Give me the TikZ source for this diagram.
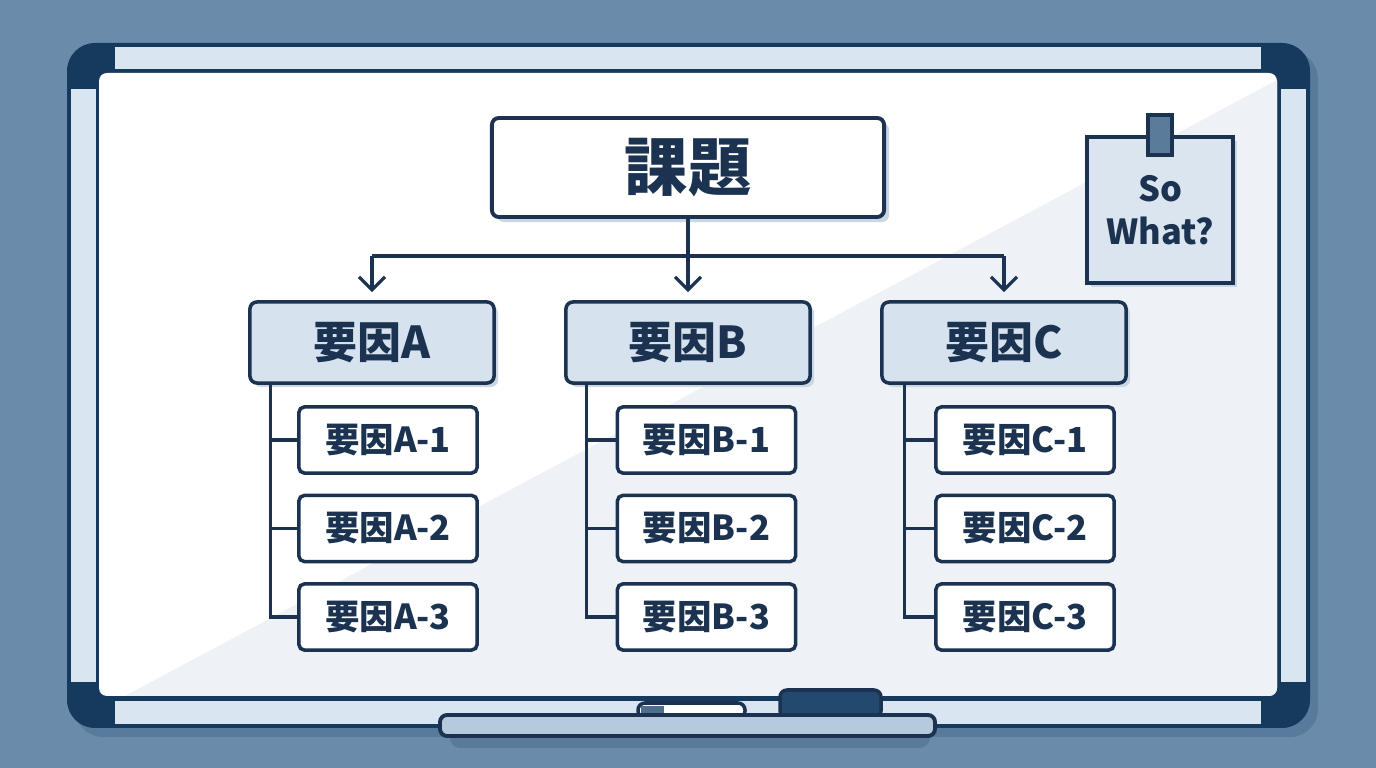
\documentclass[tikz,border=0pt]{standalone}
\usepackage{fontspec}
\newfontfamily\cjk{Noto Sans CJK JP}
\usepackage{tikz}
\usetikzlibrary{positioning,arrows.meta,shadows}

\definecolor{wallbg}{HTML}{6B8BAA}
\definecolor{navy}{HTML}{163A5E}
\definecolor{ink}{HTML}{1B3350}
\definecolor{rim}{HTML}{D9E5F0}
\definecolor{rimshadow}{HTML}{587A9B}
\definecolor{boardgrey}{HTML}{EEF2F7}
\definecolor{boxblue}{HTML}{D6E2EE}
\definecolor{shade}{HTML}{C9D7E5}
\definecolor{trayblue}{HTML}{B6CADE}
\definecolor{eraser}{HTML}{24496E}
\definecolor{capblue}{HTML}{4F6F8F}
\definecolor{clipblue}{HTML}{5B7B9B}
\definecolor{noteblue}{HTML}{DAE5EF}

\tikzset{
  issuebox/.style={draw=ink, line width=1.1pt, fill=white, rounded corners=2pt,
    minimum width=3.92cm, minimum height=0.99cm, text=ink,
    font=\cjk\bfseries\fontsize{18}{20}\selectfont,
    drop shadow={shadow xshift=0.05cm, shadow yshift=-0.05cm, fill=shade, opacity=1}},
  factorbox/.style={draw=ink, line width=1pt, fill=boxblue, rounded corners=2pt,
    minimum width=2.44cm, minimum height=0.81cm, text=ink,
    font=\cjk\bfseries\fontsize{12.5}{14}\selectfont,
    drop shadow={shadow xshift=0.04cm, shadow yshift=-0.04cm, fill=shade, opacity=1}},
  subbox/.style={draw=ink, line width=1pt, fill=white, rounded corners=1.5pt,
    minimum width=1.78cm, minimum height=0.66cm, inner sep=1pt, text=ink,
    font=\cjk\bfseries\fontsize{9.8}{12}\selectfont},
  memobox/.style={draw=ink, line width=1pt, fill=noteblue, minimum size=1.46cm,
    align=center, text=ink, font=\cjk\bfseries\fontsize{9.8}{12.2}\selectfont,
    drop shadow={shadow xshift=0.04cm, shadow yshift=-0.04cm, fill=shade, opacity=1}},
  link/.style={draw=ink, line width=0.9pt},
  arr/.style={-{Straight Barb[length=1.3mm,width=2.6mm]}}
}

\begin{document}
\begin{tikzpicture}[x=0.01cm, y=-0.01cm]
  % Wall
  \fill[wallbg] (0,0) rectangle (1376,768);
  \useasboundingbox (0,0) rectangle (1376,768);

  % Frame
  \fill[rimshadow, rounded corners=0.28cm] (75,51) rectangle (1318,737);
  \fill[navy, rounded corners=0.28cm] (67,43) rectangle (1310,728);
  \fill[rim] (115,47) rectangle (1261,69);
  \fill[rim] (115,701) rectangle (1261,724);
  \fill[rim] (71,89) rectangle (96,682);
  \fill[rim] (1281,89) rectangle (1306,682);

  % Board surface
  \fill[white, rounded corners=0.08cm] (99,73) rectangle (1277,696);
  \begin{scope}
    \clip[rounded corners=0.08cm] (99,73) rectangle (1277,696);
    \fill[boardgrey] (125,696) -- (1277,80) -- (1277,696) -- cycle;
  \end{scope}

  % Tray, marker and eraser
  \fill[rimshadow, rounded corners=3pt] (450,728) rectangle (930,748);
  \draw[ink, line width=1pt, fill=white, rounded corners=2pt] (638,703) rectangle (745,718);
  \fill[capblue] (641,706) rectangle (664,716);
  \draw[ink, line width=1pt, fill=eraser, rounded corners=2pt] (780,690) rectangle (881,718);
  \draw[ink, line width=1.1pt, fill=trayblue, rounded corners=2pt] (440,715) rectangle (935,736);

  % Sticky note
  \node[memobox] (memo) at (1160,210) {So\\What?};
  \draw[ink, line width=1pt, fill=clipblue]
    ([xshift=-0.12cm, yshift=0.2cm]memo.north) rectangle ([xshift=0.12cm, yshift=-0.2cm]memo.north);

  % Issue
  \node[issuebox] (issue) at (688,167.5) {課題};

  % Factors
  \node[factorbox] (fA) at (372,342.5) {要因A};
  \node[factorbox] (fB) at (688,342.5) {要因B};
  \node[factorbox] (fC) at (1004,342.5) {要因C};

  % Sub factors
  \node[subbox] (a1) at (388,440) {要因A-1};
  \node[subbox] (a2) at (388,528.5) {要因A-2};
  \node[subbox] (a3) at (388,617) {要因A-3};
  \node[subbox] (b1) at (706.5,440) {要因B-1};
  \node[subbox] (b2) at (706.5,528.5) {要因B-2};
  \node[subbox] (b3) at (706.5,617) {要因B-3};
  \node[subbox] (c1) at (1025,440) {要因C-1};
  \node[subbox] (c2) at (1025,528.5) {要因C-2};
  \node[subbox] (c3) at (1025,617) {要因C-3};

  % Issue -> factors
  \coordinate (split) at (688,256);
  \draw[link] (issue.south) -- (split);
  \draw[link] (fA.north |- split) -- (fC.north |- split);
  \draw[link, arr] (fA.north |- split) -- ([yshift=0.08cm]fA.north);
  \draw[link, arr] (split) -- ([yshift=0.08cm]fB.north);
  \draw[link, arr] (fC.north |- split) -- ([yshift=0.08cm]fC.north);

  % Factor -> sub factors
  \coordinate (busA) at ([xshift=0.22cm]fA.south west);
  \coordinate (busB) at ([xshift=0.22cm]fB.south west);
  \coordinate (busC) at ([xshift=0.24cm]fC.south west);
  \draw[link] (busA) |- (a3.west);
  \draw[link] (busA |- a1.west) -- (a1.west);
  \draw[link] (busA |- a2.west) -- (a2.west);
  \draw[link] (busB) |- (b3.west);
  \draw[link] (busB |- b1.west) -- (b1.west);
  \draw[link] (busB |- b2.west) -- (b2.west);
  \draw[link] (busC) |- (c3.west);
  \draw[link] (busC |- c1.west) -- (c1.west);
  \draw[link] (busC |- c2.west) -- (c2.west);
\end{tikzpicture}
\end{document}
